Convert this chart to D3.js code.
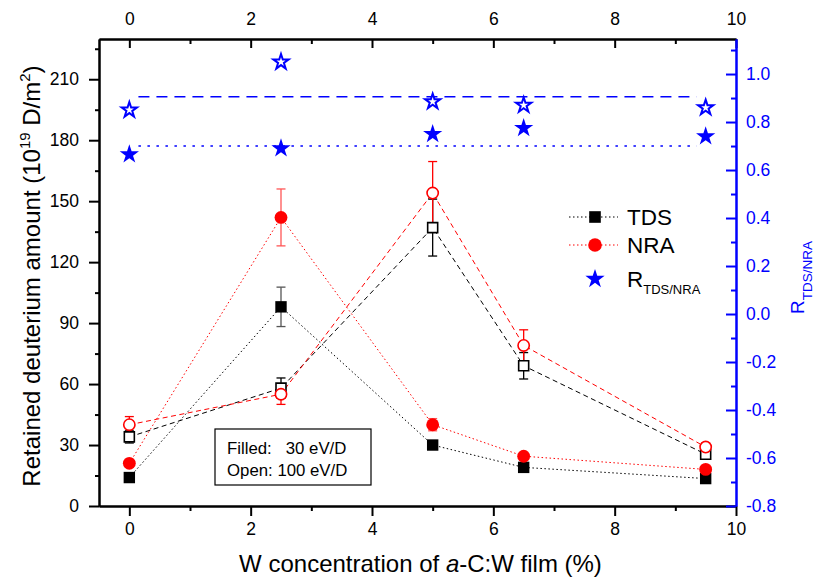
<!DOCTYPE html>
<html>
<head>
<meta charset="utf-8">
<script src="https://cdn.jsdelivr.net/npm/d3@7"></script>
<style>
  body { margin: 0; background: #fff; }
  svg { font-family: "Liberation Sans", Arial, sans-serif; }
</style>
</head>
<body>
<div id="chart"></div>
<script>
// data
const wConc = [0, 2.5, 5, 6.5, 9.5];
const tdsFilled = [14, 98, 30, 19, 13.5];
const tdsFilledErr = [0, 9.7, 1.5, 1, 0];
const nraFilled = [21, 142, 40, 24.5, 18];
const nraFilledErr = [1, 14, 3, 1, 1];
const tdsOpen = [34, 58, 137, 69, 25.5];
const tdsOpenErr = [3, 5, 14, 6.5, 2];
const nraOpen = [40, 55, 154, 79, 29];
const nraOpenErr = [4, 5, 15.5, 7.7, 2];
const ratioFilled = [0.665, 0.69, 0.75, 0.775, 0.74];
const ratioOpen = [0.85, 1.05, 0.885, 0.87, 0.86];
const meanFilled = 0.70;
const meanOpen = 0.905;
const meanSpan = [0.15, 9.35];

// ticks
const xTicks = [0, 2, 4, 6, 8, 10];
const xMinor = [1, 3, 5, 7, 9];
const leftTicks = [0, 30, 60, 90, 120, 150, 180, 210];
const leftMinor = [15, 45, 75, 105, 135, 165, 195, 225];
const rightTicks = [-0.8, -0.6, -0.4, -0.2, 0.0, 0.2, 0.4, 0.6, 0.8, 1.0];
const rightMinor = [-0.7, -0.5, -0.3, -0.1, 0.1, 0.3, 0.5, 0.7, 0.9, 1.1];

const W = 816, H = 579;
const MARGIN = { top: 39, right: 80, bottom: 73, left: 99 };
const PW = W - MARGIN.left - MARGIN.right;
const PH = H - MARGIN.top - MARGIN.bottom;

const RED = "#ff0000", BLUE = "#0000ff";
const TICK_FONT = "17.5px";

const svg = d3.select("#chart").append("svg")
  .attr("width", W).attr("height", H);

const g = svg.append("g")
  .attr("transform", `translate(${MARGIN.left},${MARGIN.top})`);

const x = d3.scaleLinear().domain([-0.5, 10]).range([0, PW]);
const y = d3.scaleLinear().domain([0, 229.8]).range([PH, 0]);
const yR = d3.scaleLinear().domain([-0.8, 1.146]).range([PH, 0]);

// axes
function styleAxis(sel, color) {
  sel.selectAll(".domain").attr("stroke", color).attr("stroke-width", 2);
  sel.selectAll(".tick line").attr("stroke", color).attr("stroke-width", 2);
  sel.selectAll(".tick text").attr("fill", color).attr("font-size", TICK_FONT);
}

// bottom
g.append("g").attr("transform", `translate(0,${PH})`)
  .call(d3.axisBottom(x).tickValues(xTicks).tickSize(10).tickPadding(6.5).tickSizeOuter(0))
  .call(s => styleAxis(s, "#000"));
g.append("g").attr("transform", `translate(0,${PH})`)
  .call(d3.axisBottom(x).tickValues(xMinor).tickSize(5).tickFormat("").tickSizeOuter(0))
  .call(s => styleAxis(s, "#000"));

// top
g.append("g")
  .call(d3.axisTop(x).tickValues(xTicks).tickSize(-9).tickPadding(14).tickSizeOuter(0))
  .call(s => styleAxis(s, "#000"));
g.append("g")
  .call(d3.axisTop(x).tickValues(xMinor).tickSize(-5).tickFormat("").tickSizeOuter(0))
  .call(s => styleAxis(s, "#000"));

// left
g.append("g")
  .call(d3.axisLeft(y).tickValues(leftTicks).tickSize(10).tickPadding(10).tickSizeOuter(0))
  .call(s => styleAxis(s, "#000"));
g.append("g")
  .call(d3.axisLeft(y).tickValues(leftMinor).tickSize(4).tickFormat("").tickSizeOuter(0))
  .call(s => styleAxis(s, "#000"));

// right
g.append("g").attr("transform", `translate(${PW},0)`)
  .call(d3.axisRight(yR).tickValues(rightTicks).tickSize(-10).tickPadding(10)
    .tickFormat(d3.format(".1f")).tickSizeOuter(0))
  .call(s => styleAxis(s, BLUE));
g.append("g").attr("transform", `translate(${PW},0)`)
  .call(d3.axisRight(yR).tickValues(rightMinor).tickSize(-5).tickFormat("").tickSizeOuter(0))
  .call(s => styleAxis(s, BLUE));

// the minus signs in the reference are plain hyphens
g.selectAll(".tick text").text(function() { return this.textContent.replace("\u2212", "-"); });

// mean lines of the ratio
const meanLines = [
  { v: meanOpen, dash: "11,7" },
  { v: meanFilled, dash: "2.5,6.5" }
];
g.selectAll(".mean").data(meanLines).enter().append("line")
  .attr("class", "mean")
  .attr("x1", x(meanSpan[0])).attr("x2", x(meanSpan[1]))
  .attr("y1", d => yR(d.v)).attr("y2", d => yR(d.v))
  .attr("stroke", BLUE).attr("stroke-width", 1.5)
  .attr("stroke-dasharray", d => d.dash);

// series definitions
const series = [
  { vals: tdsOpen, err: tdsOpenErr, color: "#000", errColor: "#000", dash: "5,3.5", shape: "square", open: true },
  { vals: nraOpen, err: nraOpenErr, color: RED, errColor: RED, dash: "5,3.5", shape: "circle", open: true },
  { vals: tdsFilled, err: tdsFilledErr, color: "#000", errColor: "#555", dash: "1.5,2.5", shape: "square", open: false },
  { vals: nraFilled, err: nraFilledErr, color: RED, errColor: "#ff5555", dash: "1.5,2.5", shape: "circle", open: false }
];

const line = d3.line().x(d => x(d.x)).y(d => y(d.v));

series.forEach(s => {
  const pts = wConc.map((w, i) => ({ x: w, v: s.vals[i], e: s.err[i] }));
  g.append("path").datum(pts)
    .attr("d", line)
    .attr("fill", "none")
    .attr("stroke", s.color)
    .attr("stroke-width", 1)
    .attr("stroke-dasharray", s.dash);
  s.pts = pts;
});

// error bars
series.forEach(s => {
  const eb = g.append("g").selectAll("g").data(s.pts.filter(d => d.e > 0)).enter().append("g")
    .attr("stroke", s.errColor).attr("stroke-width", 1.3);
  eb.append("line")
    .attr("x1", d => x(d.x)).attr("x2", d => x(d.x))
    .attr("y1", d => y(d.v - d.e)).attr("y2", d => y(d.v + d.e));
  eb.append("line")
    .attr("x1", d => x(d.x) - 4.5).attr("x2", d => x(d.x) + 4.5)
    .attr("y1", d => y(d.v + d.e)).attr("y2", d => y(d.v + d.e));
  eb.append("line")
    .attr("x1", d => x(d.x) - 4.5).attr("x2", d => x(d.x) + 4.5)
    .attr("y1", d => y(d.v - d.e)).attr("y2", d => y(d.v - d.e));
});

// markers
function drawMarkers(s) {
  const sym = s.shape === "square"
    ? d3.symbol().type(d3.symbolSquare).size(s.open ? 100 : 130)
    : d3.symbol().type(d3.symbolCircle).size(s.open ? 100 : 130);
  g.append("g").selectAll("path").data(s.pts).enter().append("path")
    .attr("d", sym)
    .attr("transform", d => `translate(${x(d.x)},${y(d.v)})`)
    .attr("fill", s.open ? "#fff" : s.color)
    .attr("stroke", s.open ? s.color : "none")
    .attr("stroke-width", 1.6);
}
series.forEach(drawMarkers);

// ratio stars (right axis)
const starFilled = d3.symbol().type(d3.symbolStar).size(115);
const starOpen = d3.symbol().type(d3.symbolStar).size(72);
g.append("g").selectAll("path").data(wConc.map((w, i) => ({ x: w, v: ratioOpen[i] }))).enter()
  .append("path")
  .attr("d", starOpen)
  .attr("transform", d => `translate(${x(d.x)},${yR(d.v)})`)
  .attr("fill", "#fff").attr("stroke", BLUE).attr("stroke-width", 2)
  .attr("stroke-linejoin", "miter");
g.append("g").selectAll("path").data(wConc.map((w, i) => ({ x: w, v: ratioFilled[i] }))).enter()
  .append("path")
  .attr("d", starFilled)
  .attr("transform", d => `translate(${x(d.x)},${yR(d.v)})`)
  .attr("fill", BLUE);

// legend
const lg = svg.append("g").attr("transform", "translate(569,217)");
const legendRows = [
  { label: "TDS", color: "#000", sym: d3.symbolSquare, size: 135, dy: 0, line: true },
  { label: "NRA", color: RED, sym: d3.symbolCircle, size: 145, dy: 28, line: true },
  { label: "R", sub: "TDS/NRA", color: BLUE, sym: d3.symbolStar, size: 115, dy: 62, line: false }
];
legendRows.forEach(r => {
  const row = lg.append("g").attr("transform", `translate(0,${r.dy})`);
  if (r.line) {
    row.append("line").attr("x1", 0).attr("x2", 49).attr("y1", 0).attr("y2", 0)
      .attr("stroke", r.color).attr("stroke-width", 1).attr("stroke-dasharray", "1.5,2.5");
  }
  row.append("path").attr("d", d3.symbol().type(r.sym).size(r.size))
    .attr("transform", "translate(26,0)").attr("fill", r.color);
  const t = row.append("text").attr("x", 58).attr("y", 8)
    .attr("font-size", "22.5px").attr("fill", "#000").text(r.label);
  if (r.sub) {
    t.append("tspan").attr("font-size", "13px").attr("dy", 7).text(r.sub);
  }
});

// inset note
const note = svg.append("g").attr("transform", "translate(215,429)");
note.append("rect").attr("width", 156).attr("height", 56)
  .attr("fill", "#fff").attr("stroke", "#000").attr("stroke-width", 1.2);
note.append("text").attr("x", 12).attr("y", 25).attr("font-size", "16.8px")
  .style("white-space", "pre").text("Filled:   30 eV/D");
note.append("text").attr("x", 12).attr("y", 47).attr("font-size", "16.8px")
  .style("white-space", "pre").text("Open: 100 eV/D");

// axis titles
const xt = svg.append("text")
  .attr("x", MARGIN.left + PW / 2 + 3).attr("y", 572)
  .attr("text-anchor", "middle").attr("font-size", "24px").attr("fill", "#000");
xt.append("tspan").text("W concentration of ");
xt.append("tspan").attr("font-style", "italic").text("a");
xt.append("tspan").text("-C:W film (%)");

const yt = svg.append("text")
  .attr("transform", "translate(40,276) rotate(-90)")
  .attr("text-anchor", "middle").attr("font-size", "24px").attr("fill", "#000");
yt.append("tspan").text("Retained deuterium amount (10");
yt.append("tspan").attr("font-size", "15px").attr("dy", -10).text("19");
yt.append("tspan").attr("dy", 10).text(" D/m");
yt.append("tspan").attr("font-size", "15px").attr("dy", -10).text("2");
yt.append("tspan").attr("dy", 10).text(")");

const rt = svg.append("text")
  .attr("transform", "translate(804,314) rotate(-90)")
  .attr("font-size", "19px").attr("fill", BLUE);
rt.append("tspan").text("R");
rt.append("tspan").attr("font-size", "13.5px").attr("dy", 8).text("TDS/NRA");
</script>
</body>
</html>
